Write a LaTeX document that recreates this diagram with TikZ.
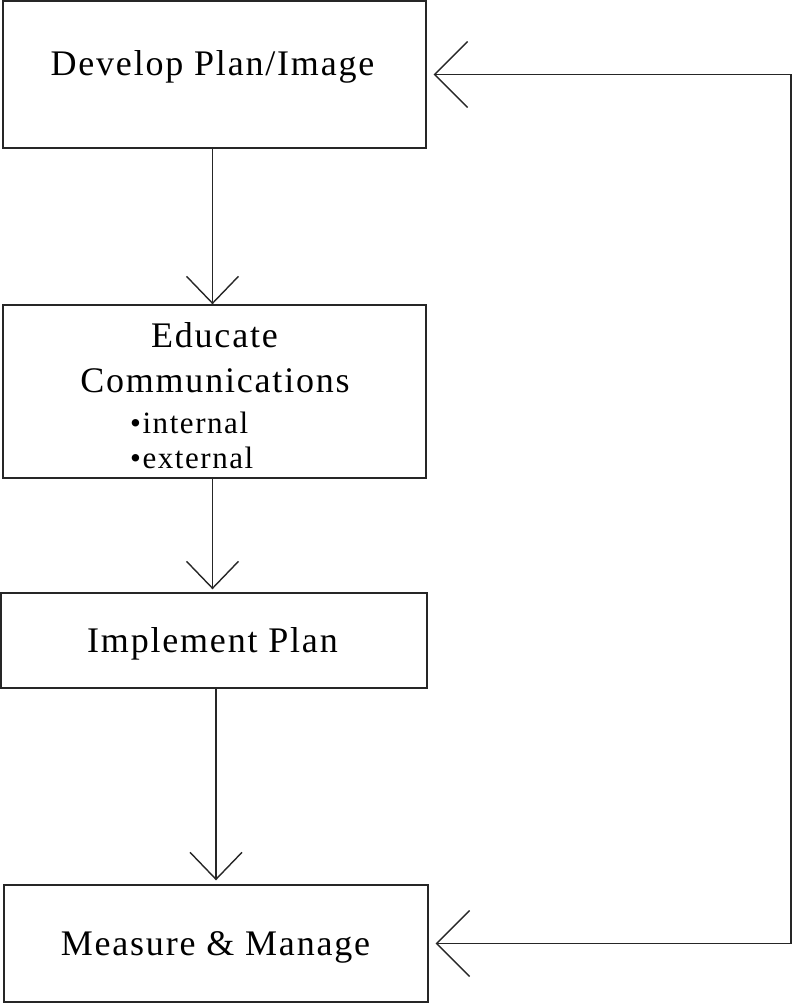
\documentclass[tikz,border=0pt]{standalone}
\usepackage{fontspec}
\setmainfont{Liberation Serif}[LetterSpace=5.0]
\usetikzlibrary{arrows.meta}
\begin{document}
\begin{tikzpicture}[x=1pt,y=-1pt,
  box/.style={draw=black!85, line width=1.4pt, minimum width=423pt, inner sep=0pt, anchor=center},
  lbl/.style={anchor=base, inner sep=0pt, font=\fontsize{36}{40}\selectfont},
  sub/.style={anchor=base west, inner sep=0pt, font=\fontsize{31}{34}\selectfont},
  flow/.style={draw=black!85, line width=1.4pt, -{Straight Barb[length=27pt,width=52pt,line width=1.4pt]}},
  back/.style={draw=black!85, line width=1.4pt,
    {Straight Barb[length=33pt,width=66pt,line width=1.4pt]}-{Straight Barb[length=33pt,width=66pt,line width=1.4pt]},
    shorten >=7pt, shorten <=7pt}]
\useasboundingbox (0,0) rectangle (793,1007);
% boxes
\node[box, minimum height=147pt] (b1) at (214.5,74.5) {};
\node[box, minimum height=173pt] (b2) at (214.5,391.5) {};
\node[box, minimum width=426pt, minimum height=95pt] (b3) at (214,640.5) {};
\node[box, minimum width=424pt, minimum height=117pt] (b4) at (216,943.5) {};
% texts
\node[lbl] (t1) at (212.5,75) {Develop Plan/Image};
\node[lbl] (t2a) at (214.5,347) {Educate};
\node[lbl] (t2b) at (215,392) {Communications};
\node[sub] (t2c) at (130,433) {•internal};
\node[sub] (t2d) at (130,468) {•external};
\node[lbl] (t3) at (212.5,652) {Implement Plan};
\node[lbl] (t4) at (215.5,955) {Measure \& Manage};
% flow arrows
\draw[flow] ([xshift=-2pt]b1.south) -- ([xshift=-2pt]b1.south |- b2.north);
\draw[flow, shorten >=3pt] ([xshift=-2pt]b2.south) -- ([xshift=-2pt]b2.south |- b3.north);
\draw[flow, shorten >=4pt] (b4.north |- b3.south) -- (b4.north);
% feedback loop
\coordinate (c2) at (791,943.5);
\coordinate (c1) at (791,74.5);
\draw[back] (b4.east) -- (c2) -- (c1) -- (b1.east);
\end{tikzpicture}
\end{document}
